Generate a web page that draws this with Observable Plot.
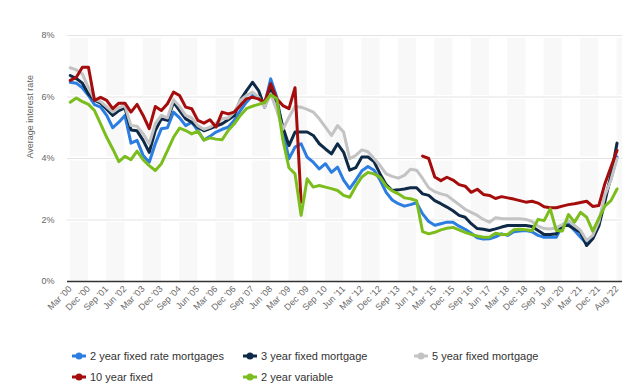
<!DOCTYPE html>
<html><head><meta charset="utf-8">
<script src="https://cdn.jsdelivr.net/npm/d3@7"></script>
<script src="https://cdn.jsdelivr.net/npm/@observablehq/plot@0.6"></script>
<style>
body{margin:0;background:#fff;font-family:"Liberation Sans",Arial,sans-serif;}
#wrap{position:relative;width:630px;height:390px;overflow:hidden;}
.item{position:absolute;font-size:11px;color:#333;white-space:nowrap;display:flex;align-items:center;height:14px;}
.item svg{margin-right:4px;}
</style></head><body><div id="wrap"><div id="chart"></div></div>
<script>
const periods = ["Mar '00","Jun '00","Sep '00","Dec '00","Mar '01","Jun '01","Sep '01","Dec '01","Mar '02","Jun '02","Sep '02","Dec '02","Mar '03","Jun '03","Sep '03","Dec '03","Mar '04","Jun '04","Sep '04","Dec '04","Mar '05","Jun '05","Sep '05","Dec '05","Mar '06","Jun '06","Sep '06","Dec '06","Mar '07","Jun '07","Sep '07","Dec '07","Mar '08","Jun '08","Sep '08","Dec '08","Mar '09","Jun '09","Sep '09","Dec '09","Mar '10","Jun '10","Sep '10","Dec '10","Mar '11","Jun '11","Sep '11","Dec '11","Mar '12","Jun '12","Sep '12","Dec '12","Mar '13","Jun '13","Sep '13","Dec '13","Mar '14","Jun '14","Sep '14","Dec '14","Mar '15","Jun '15","Sep '15","Dec '15","Mar '16","Jun '16","Sep '16","Dec '16","Mar '17","Jun '17","Sep '17","Dec '17","Mar '18","Jun '18","Sep '18","Dec '18","Mar '19","Jun '19","Sep '19","Dec '19","Mar '20","Jun '20","Sep '20","Dec '20","Mar '21","Jun '21","Sep '21","Dec '21","Mar '22","Jun '22","Aug '22"];
const shownLabels = ["Mar '00","Dec '00","Sep '01","Jun '02","Mar '03","Dec '03","Sep '04","Jun '05","Mar '06","Dec '06","Sep '07","Jun '08","Mar '09","Dec '09","Sep '10","Jun '11","Mar '12","Dec '12","Sep '13","Jun '14","Mar '15","Dec '15","Sep '16","Jun '17","Mar '18","Dec '18","Sep '19","Jun '20","Mar '21","Dec '21","Aug '22"];
const yTicks = [0, 2, 4, 6, 8];

const fixed2 = [6.48,6.45,6.3,6.05,5.75,5.67,5.4,5.0,5.18,5.4,4.5,4.59,4.1,3.88,4.48,4.97,5.0,5.51,5.32,5.07,5.18,4.91,4.6,4.72,4.86,4.95,5.02,5.24,5.56,5.83,6.05,5.94,5.76,6.59,5.99,4.91,3.99,4.37,4.48,4.04,3.88,3.66,3.83,3.55,3.72,3.3,3.02,3.3,3.6,3.74,3.62,3.3,2.9,2.65,2.53,2.45,2.5,2.56,2.2,1.95,1.83,1.88,1.93,1.93,1.8,1.7,1.57,1.42,1.38,1.39,1.45,1.55,1.5,1.62,1.64,1.66,1.62,1.5,1.44,1.44,1.44,1.82,1.88,1.66,1.44,1.23,1.42,1.85,2.75,3.35,4.05];
const fixed3 = [6.7,6.6,6.45,6.1,5.9,5.8,5.6,5.4,5.56,5.65,4.93,4.9,4.59,4.2,4.91,5.29,5.24,5.83,5.56,5.29,5.18,5.02,4.9,4.97,5.05,5.13,5.26,5.4,5.9,6.2,6.48,6.21,5.67,6.27,5.83,5.02,4.42,4.86,4.86,4.86,4.75,4.48,4.31,4.15,4.48,4.2,3.62,3.7,4.05,4.05,3.9,3.5,3.15,2.96,2.98,3.01,3.05,3.05,2.85,2.8,2.63,2.53,2.42,2.3,2.15,2.09,1.88,1.72,1.7,1.66,1.71,1.77,1.82,1.82,1.82,1.82,1.79,1.66,1.53,1.53,1.55,1.82,1.82,1.71,1.6,1.17,1.39,1.8,2.6,3.45,4.5];
const fixed5 = [6.95,6.88,6.75,6.3,5.92,5.85,5.68,5.51,5.65,5.72,5.07,5.05,4.8,4.48,5.13,5.4,5.32,5.91,5.69,5.4,5.32,5.07,4.95,5.02,5.15,5.29,5.32,5.51,5.89,6.05,6.16,5.99,5.67,6.1,5.56,4.95,5.34,5.69,5.67,5.6,5.51,5.29,5.02,4.75,5.07,4.86,3.99,4.1,4.28,4.22,4.0,3.77,3.5,3.42,3.36,3.45,3.65,3.62,3.35,3.05,2.92,2.85,2.8,2.65,2.5,2.35,2.25,2.15,2.02,1.93,2.07,2.05,2.04,2.04,2.04,2.02,1.95,1.8,1.72,1.71,1.75,1.85,1.98,1.82,1.66,1.33,1.5,1.95,2.8,3.3,4.0];
const fixed10 = [6.54,6.64,6.97,6.97,5.89,5.99,5.89,5.62,5.8,5.8,5.51,5.76,5.4,4.97,5.69,5.56,5.78,6.16,6.05,5.67,5.62,5.24,5.15,5.26,5.02,5.51,5.45,5.51,5.72,5.94,5.99,5.94,5.83,6.43,5.94,5.72,5.62,6.3,2.58,null,null,null,null,null,null,null,null,null,null,null,null,null,null,null,null,null,null,null,4.08,4.0,3.4,3.28,3.39,3.3,3.15,3.1,2.9,3.0,2.83,2.8,2.7,2.76,2.72,2.68,2.63,2.58,2.61,2.55,2.43,2.4,2.4,2.45,2.5,2.53,2.57,2.61,2.44,2.47,3.18,3.72,4.26];
const variable2 = [5.83,5.97,5.85,5.76,5.56,5.13,4.69,4.31,3.9,4.07,3.96,4.24,3.96,3.77,3.61,3.83,4.26,4.69,4.99,4.91,4.8,4.89,4.6,4.67,4.63,4.61,4.91,5.13,5.4,5.62,5.7,5.76,5.82,6.07,5.94,4.6,3.7,3.5,2.15,3.34,3.07,3.12,3.07,3.02,2.96,2.8,2.74,3.1,3.4,3.55,3.5,3.39,3.1,2.95,2.85,2.72,2.69,2.63,1.62,1.55,1.6,1.68,1.73,1.76,1.68,1.6,1.53,1.48,1.44,1.44,1.57,1.53,1.53,1.68,1.7,1.68,1.65,2.02,1.98,2.36,1.66,1.64,2.18,1.93,2.25,2.09,1.64,2.05,2.45,2.63,3.01];

const seriesNames = ["2 year fixed rate mortgages","3 year fixed mortgage","5 year fixed mortgage","10 year fixed","2 year variable"];
const seriesColors = ["#2b7de1","#0e2a47","#c3c3c3","#a50d0d","#7cbd1e"];
const seriesValues = [fixed2, fixed3, fixed5, fixed10, variable2];

const idx = periods.map((p, i) => i);
const tickIdx = idx.filter(i => shownLabels.includes(periods[i]));
const bandStarts = tickIdx.filter((d, k) => k % 2 === 0);
const xMax = 90.9;

const marks = [
  Plot.rect(bandStarts, {x1: d => d, x2: d => Math.min(d + 3, xMax), y1: 0, y2: 8, fill: "#f8f8f8"}),
  Plot.ruleY([2, 4, 6, 8], {stroke: "#fff", strokeWidth: 4}),
  Plot.ruleY([2, 4, 6, 8], {stroke: "#e3e3e3", strokeWidth: 1}),
  Plot.ruleY([0], {stroke: "#333", strokeWidth: 1.5}),
];
seriesValues.forEach((vals, s) => {
  marks.push(Plot.line(idx, {x: i => i, y: i => vals[i], stroke: seriesColors[s], strokeWidth: 3, strokeLinejoin: "round", strokeLinecap: "round"}));
});
marks.push(
  Plot.axisY(yTicks, {tickFormat: d => d + "%", tickSize: 0, tickPadding: 13, fontSize: 9, fill: "#666", label: null}),
  Plot.axisX(tickIdx, {tickFormat: i => periods[i], tickRotate: -45, tickSize: 0, tickPadding: 6, fontSize: 9, fill: "#666", label: null}),
  Plot.text(["Average interest rate"], {frameAnchor: "left", dx: -37, rotate: -90, fontSize: 9, fill: "#666", text: d => d})
);

const chart = Plot.plot({
  width: 630, height: 330,
  marginLeft: 67, marginRight: 8, marginTop: 35, marginBottom: 49,
  x: {domain: [-0.45, xMax]},
  y: {domain: [0, 8]},
  style: {fontFamily: "'Liberation Sans', Arial, sans-serif", background: "#fff"},
  marks
});
document.getElementById("chart").appendChild(chart);

const legendPos = [[72, 349], [243, 349], [414, 349], [72, 370], [243, 370]];
const wrap = document.getElementById("wrap");
seriesNames.forEach((name, s) => {
  const div = document.createElement("div");
  div.className = "item";
  div.style.left = legendPos[s][0] + "px";
  div.style.top = legendPos[s][1] + "px";
  div.innerHTML = `<svg width="14" height="10"><line x1="0" y1="5" x2="14" y2="5" stroke="${seriesColors[s]}" stroke-width="3"/><circle cx="7" cy="5" r="3.5" fill="${seriesColors[s]}"/></svg><span>${name}</span>`;
  wrap.appendChild(div);
});
</script></body></html>
